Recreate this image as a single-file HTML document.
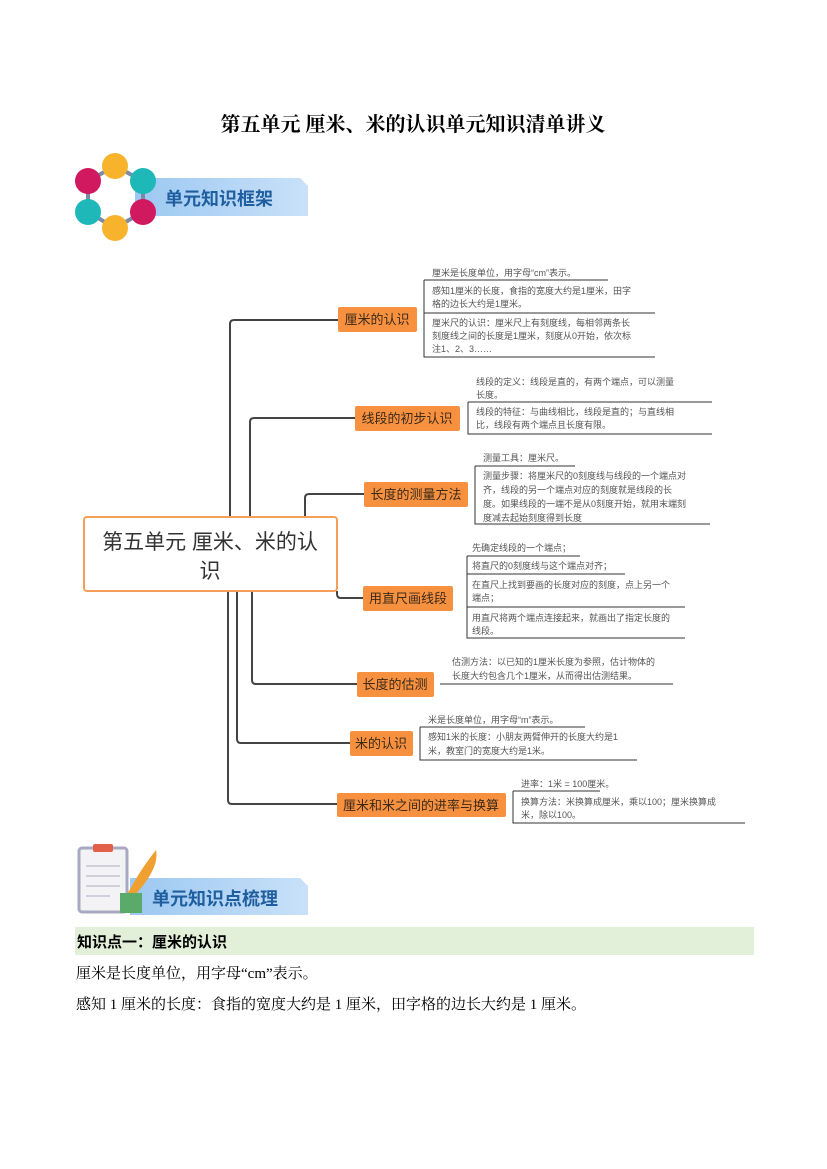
<!DOCTYPE html>
<html><head><meta charset="utf-8"><style>
html,body{margin:0;padding:0;background:#fff}
svg{display:block}
text{font-family:"Liberation Sans","Noto Sans CJK SC",sans-serif}
.lf{font-size:9px;fill:#555}
.nd{font-size:13px;fill:#3a2a1a}
.ln{stroke:#333;stroke-width:1;fill:none}
.br{stroke:#444;stroke-width:2;fill:none}
.sf{font-family:"Liberation Serif","Noto Serif CJK SC",serif}
</style></head><body>
<svg width="827" height="1169" viewBox="0 0 827 1169" xmlns="http://www.w3.org/2000/svg">
<defs>
<linearGradient id="bg1" x1="0" x2="1"><stop offset="0" stop-color="#9cc8f2"/><stop offset="1" stop-color="#c9e1f8"/></linearGradient>
</defs>
<text class="sf" x="413" y="131" text-anchor="middle" style="font-size:20px;font-weight:bold;fill:#000">第五单元 厘米、米的认识单元知识清单讲义</text>

<path d="M135 178 H300 L308 186 V216 H135 Z" fill="url(#bg1)"/>
<g stroke="#7a8aa8" stroke-width="4" fill="none">
<polyline points="115,166 88,181 88,212 115,228 143,212 143,181 115,166"/>
</g>
<circle cx="115" cy="166" r="13" fill="#f7b32b"/>
<circle cx="88" cy="181" r="13" fill="#d0195e"/>
<circle cx="143" cy="181" r="13" fill="#1fb8b8"/>
<circle cx="88" cy="212" r="13" fill="#1fb8b8"/>
<circle cx="143" cy="212" r="13" fill="#d0195e"/>
<circle cx="115" cy="228" r="13" fill="#f7b32b"/>
<text x="165" y="205" style="font-size:18px;font-weight:bold;fill:#1f5fa0">单元知识框架</text>

<path class="br" d="M230 517 V324 Q230 320 234 320 H338"/>
<path class="br" d="M250 517 V422 Q250 418 254 418 H355"/>
<path class="br" d="M305 517 V498 Q305 494 309 494 H364"/>
<path class="br" d="M337 591 V594 Q337 598 341 598 H363"/>
<path class="br" d="M252 591 V680 Q252 684 256 684 H357"/>
<path class="br" d="M237 591 V739 Q237 743 241 743 H350"/>
<path class="br" d="M228 591 V800 Q228 804 232 804 H337"/>

<rect x="84" y="517" width="253" height="74" rx="3" fill="#fff" stroke="#f5a05a" stroke-width="2"/>
<text x="210" y="549" text-anchor="middle" style="font-size:21px;fill:#333">第五单元 厘米、米的认</text>
<text x="210" y="578" text-anchor="middle" style="font-size:21px;fill:#333">识</text>

<g fill="#f8913f">
<rect x="338" y="307" width="79" height="25" rx="2"/>
<rect x="355" y="406" width="105" height="25" rx="2"/>
<rect x="364" y="482" width="104" height="25" rx="2"/>
<rect x="363" y="586" width="90" height="25" rx="2"/>
<rect x="357" y="672" width="77" height="25" rx="2"/>
<rect x="350" y="731" width="63" height="25" rx="2"/>
<rect x="337" y="793" width="169" height="24" rx="2"/>
</g>
<g class="nd" text-anchor="middle">
<text x="377" y="324">厘米的认识</text>
<text x="407" y="423">线段的初步认识</text>
<text x="416" y="499">长度的测量方法</text>
<text x="408" y="603">用直尺画线段</text>
<text x="395" y="689">长度的估测</text>
<text x="381" y="748">米的认识</text>
<text x="421" y="810">厘米和米之间的进率与换算</text>
</g>

<path class="ln" d="M424 280 H608 M424 280 V357 H655 M424 313 H655"/>
<text class="lf" x="432" y="276">厘米是长度单位，用字母“cm”表示。</text>
<text class="lf" x="432" y="294">感知1厘米的长度，食指的宽度大约是1厘米，田字</text>
<text class="lf" x="432" y="307">格的边长大约是1厘米。</text>
<text class="lf" x="432" y="326">厘米尺的认识：厘米尺上有刻度线，每相邻两条长</text>
<text class="lf" x="432" y="339">刻度线之间的长度是1厘米，刻度从0开始，依次标</text>
<text class="lf" x="432" y="352">注1、2、3……</text>
<path class="ln" d="M468 402 H712 M468 402 V434 H712"/>
<text class="lf" x="476" y="385">线段的定义：线段是直的，有两个端点，可以测量</text>
<text class="lf" x="476" y="398">长度。</text>
<text class="lf" x="476" y="415">线段的特征：与曲线相比，线段是直的；与直线相</text>
<text class="lf" x="476" y="428">比，线段有两个端点且长度有限。</text>
<path class="ln" d="M475 466 H575 M475 466 V524 H710"/>
<text class="lf" x="483" y="461">测量工具：厘米尺。</text>
<text class="lf" x="483" y="479">测量步骤：将厘米尺的0刻度线与线段的一个端点对</text>
<text class="lf" x="483" y="493">齐，线段的另一个端点对应的刻度就是线段的长</text>
<text class="lf" x="483" y="507">度。如果线段的一端不是从0刻度开始，就用末端刻</text>
<text class="lf" x="483" y="521">度减去起始刻度得到长度</text>
<path class="ln" d="M467 556 H580 M467 556 V638 H685 M467 574 H625 M467 607 H685"/>
<text class="lf" x="472" y="551">先确定线段的一个端点；</text>
<text class="lf" x="472" y="569">将直尺的0刻度线与这个端点对齐；</text>
<text class="lf" x="472" y="588">在直尺上找到要画的长度对应的刻度，点上另一个</text>
<text class="lf" x="472" y="601">端点；</text>
<text class="lf" x="472" y="621">用直尺将两个端点连接起来，就画出了指定长度的</text>
<text class="lf" x="472" y="634">线段。</text>
<path class="ln" d="M440 684 H673"/>
<text class="lf" x="452" y="665">估测方法：以已知的1厘米长度为参照，估计物体的</text>
<text class="lf" x="452" y="679">长度大约包含几个1厘米，从而得出估测结果。</text>
<path class="ln" d="M420 727 H585 M420 727 V760 H637"/>
<text class="lf" x="428" y="723">米是长度单位，用字母“m”表示。</text>
<text class="lf" x="428" y="740">感知1米的长度：小朋友两臂伸开的长度大约是1</text>
<text class="lf" x="428" y="754">米，教室门的宽度大约是1米。</text>
<path class="ln" d="M513 791 H600 M513 791 V823 H745"/>
<text class="lf" x="521" y="787">进率：1米 = 100厘米。</text>
<text class="lf" x="521" y="805">换算方法：米换算成厘米，乘以100；厘米换算成</text>
<text class="lf" x="521" y="818">米，除以100。</text>

<path d="M130 878 H300 L308 886 V915 H130 Z" fill="url(#bg1)"/>
<rect x="79" y="848" width="48" height="64" rx="3" fill="#f3f3f6" stroke="#a8a8c0" stroke-width="3"/>
<rect x="93" y="844" width="20" height="8" rx="2" fill="#e0604a"/>
<g stroke="#c4c4d4" stroke-width="1.5"><line x1="86" y1="866" x2="120" y2="866"/><line x1="86" y1="876" x2="120" y2="876"/><line x1="86" y1="886" x2="120" y2="886"/><line x1="86" y1="896" x2="110" y2="896"/></g>
<path d="M128 893 Q140 870 156 850 Q160 868 134 896 Z" fill="#f0a030"/>
<rect x="120" y="893" width="22" height="20" fill="#5aaa6a"/>
<text x="152" y="905" style="font-size:18px;font-weight:bold;fill:#1f5fa0">单元知识点梳理</text>

<rect x="75" y="927" width="679" height="28" fill="#e2efd9"/>
<text x="77" y="947" style="font-size:15px;font-weight:bold;fill:#000">知识点一：厘米的认识</text>
<text class="sf" x="76" y="978" style="font-size:15px;fill:#000">厘米是长度单位，用字母“cm”表示。</text>
<text class="sf" x="76" y="1009" style="font-size:15px;fill:#000">感知 1 厘米的长度：食指的宽度大约是 1 厘米，田字格的边长大约是 1 厘米。</text>
</svg>
</body></html>
